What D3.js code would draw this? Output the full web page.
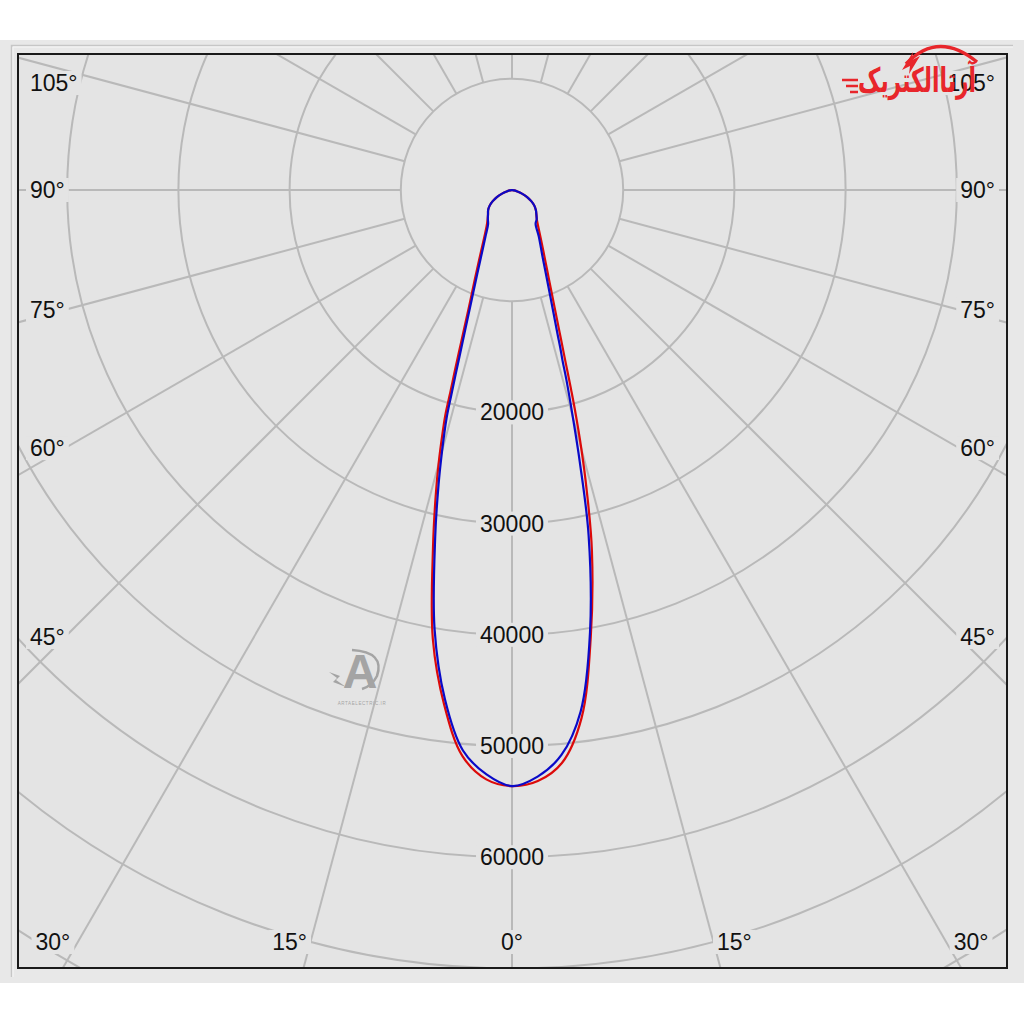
<!DOCTYPE html>
<html><head><meta charset="utf-8">
<script src="https://cdn.jsdelivr.net/npm/d3@7"></script>
<style>html,body{margin:0;padding:0;background:#fff;} svg{display:block}</style>
</head><body>
<svg id="chart" width="1024" height="1024"></svg>
<script>
// ---- data (luminous intensity, cd) ----
const angles    = [0, 2.5, 5, 7.5, 10, 12.5, 14, 15, 16, 16.5, 17, 17.5, 18.5, 20, 22.5, 25, 30, 35, 40, 45, 50, 55, 60, 65, 70, 75, 80, 85, 90];
const redLeft   = [53600, 53050, 51100, 46700, 41000, 32800, 28370, 25520, 22580, 21100, 18840, 17190, 14380, 11490, 8770, 7050, 5050, 3980, 3400, 3050, 2800, 2450, 2000, 1500, 950, 500, 220, 60, 0];
const redRight  = [53600, 53200, 51700, 47900, 40800, 33200, 27720, 24090, 20470, 18700, 17050, 15640, 13480, 11160, 8680, 7130, 5250, 4150, 3480, 3100, 2800, 2450, 2000, 1500, 950, 500, 220, 60, 0];
const blueLeft  = [53600, 52600, 50600, 46200, 40100, 31900, 27300, 24300, 21350, 19200, 17350, 15700, 13260, 10740, 8160, 6550, 4730, 3750, 3380, 3050, 2800, 2450, 2000, 1500, 950, 500, 220, 60, 0];
const blueRight = [53600, 52800, 51000, 47300, 40400, 31840, 25190, 21120, 17740, 16000, 14860, 13670, 11900, 9950, 7790, 6420, 4820, 3700, 3450, 3100, 2800, 2450, 2000, 1500, 950, 500, 220, 60, 0];
const seriesNames  = ["C0-C180", "C90-C270"];
const seriesColors = ["#dc0a0a", "#0a0ac8"];

const ringValues  = [10000, 20000, 30000, 40000, 50000, 60000, 70000, 80000];
const ringLabels  = [20000, 30000, 40000, 50000, 60000];
const spokeAngles = [0, 15, 30, 45, 60, 75, 90, 105, 120, 135, 150, 165, 180, 195, 210, 225, 240, 255, 270, 285, 300, 315, 330, 345];
const sideLabelAngles   = [45, 60, 75, 90, 105];
const bottomLabelAngles = [0, 15, 30];

// ---- layout ----
const svg = d3.select("#chart");
const frame = {x: 18, y: 54, w: 989, h: 914};
const cx = 512, cy = 190;
const r = d3.scaleLinear().domain([0, 10000]).range([0, 111.2]);
const rad = d => d * Math.PI / 180;
const font = "'Liberation Sans', Arial, sans-serif";
const plotBg = "#e4e4e4";

// panel
svg.append("rect").attr("x", 0).attr("y", 40).attr("width", 1024).attr("height", 943).attr("fill", "#e8e8e8");
svg.append("path").attr("d", "M11.5,977 V45.5 H1013").attr("fill", "none").attr("stroke", "#c6c6c6").attr("stroke-width", 1.5);
svg.append("path").attr("d", "M13,977 V47 H1013").attr("fill", "none").attr("stroke", "#f6f6f6").attr("stroke-width", 1);

// plot bg
svg.append("rect").attr("x", frame.x).attr("y", frame.y).attr("width", frame.w).attr("height", frame.h).attr("fill", plotBg);

svg.append("clipPath").attr("id", "clip").append("rect")
  .attr("x", frame.x + 1).attr("y", frame.y + 1).attr("width", frame.w - 2).attr("height", frame.h - 2);

const g = svg.append("g").attr("clip-path", "url(#clip)");
const grid = g.append("g").attr("stroke", "#b9b9b9").attr("stroke-width", 2).attr("fill", "none");

grid.selectAll("circle").data(ringValues).join("circle")
  .attr("cx", cx).attr("cy", cy).attr("r", d => r(d));

grid.selectAll("line").data(spokeAngles).join("line")
  .attr("x1", a => cx + r(10000) * Math.sin(rad(a)))
  .attr("y1", a => cy + r(10000) * Math.cos(rad(a)))
  .attr("x2", a => cx + r(120000) * Math.sin(rad(a)))
  .attr("y2", a => cy + r(120000) * Math.cos(rad(a)));

// labels with background
function label(parent, x, y, txt, anchor) {
  const grp = parent.append("g");
  const t = grp.append("text").attr("x", x).attr("y", y).attr("text-anchor", anchor)
    .attr("dominant-baseline", "central").attr("font-family", font).attr("font-size", 23)
    .attr("fill", "#111").text(txt);
  const bb = t.node().getBBox();
  grp.insert("rect", "text").attr("x", bb.x - 4).attr("y", bb.y + 1).attr("width", bb.width + 8)
    .attr("height", bb.height - 2).attr("fill", plotBg);
}
const labels = g.append("g");
ringLabels.forEach(v => label(labels, cx, cy + r(v), d3.format("d")(v), "middle"));

sideLabelAngles.forEach(a => {
  let y = (a === 90) ? cy : cy + (cx - 65) / Math.tan(rad(a));
  y = Math.max(y, 83);
  label(labels, 30, y, a + "°", "start");
  label(labels, 995, y, a + "°", "end");
});
bottomLabelAngles.forEach(a => {
  const dx = (955 - cy) * Math.tan(rad(a));
  if (a === 0) { label(labels, cx, 942, a + "°", "middle"); return; }
  label(labels, cx - dx, 942, a + "°", "end");
  label(labels, cx + dx, 942, a + "°", "start");
});

// curves
function buildSeries(left, right) {
  const pts = [];
  for (let i = angles.length - 1; i >= 0; i--) pts.push({phi: Math.PI + rad(angles[i]), v: left[i]});
  for (let i = 1; i < angles.length; i++) pts.push({phi: Math.PI - rad(angles[i]), v: right[i]});
  return pts;
}
const series = [buildSeries(redLeft, redRight), buildSeries(blueLeft, blueRight)];
const line = d3.lineRadial().angle(d => d.phi).radius(d => r(d.v)).curve(d3.curveCatmullRom.alpha(0.5));
const cg = g.append("g").attr("transform", `translate(${cx},${cy})`);
cg.selectAll("path").data(series).join("path")
  .attr("d", line).attr("fill", "none")
  .attr("stroke", (d, i) => seriesColors[i]).attr("stroke-width", 2.2)
  .attr("stroke-linejoin", "round")
  .append("title").text((d, i) => seriesNames[i]);

// frame border
svg.append("rect").attr("x", frame.x).attr("y", frame.y).attr("width", frame.w).attr("height", frame.h)
  .attr("fill", "none").attr("stroke", "#1a1a1a").attr("stroke-width", 2);

// watermark "A"
const wm = svg.append("g").attr("fill", "#a4a4a4");
wm.append("text").attr("x", 360).attr("y", 688).attr("text-anchor", "middle")
  .attr("font-family", font).attr("font-weight", "bold").attr("font-size", 48).text("A");
wm.append("path").attr("d", "M352,650 Q385,652 377,676 Q372,686 362,689").attr("fill", "none")
  .attr("stroke", "#a4a4a4").attr("stroke-width", 2.5);
wm.append("path").attr("d", "M329,672 L340,676 L336,680 L346,687 L333,682 L337,678 Z");
wm.append("text").attr("x", 362).attr("y", 705).attr("text-anchor", "middle")
  .attr("font-family", font).attr("font-size", 4.5).attr("letter-spacing", 0.6).text("ARTAELECTRIC.IR");

// logo
const logo = svg.append("g").attr("fill", "#e8262b");
logo.append("text").attr("x", 917).attr("y", 92).attr("text-anchor", "middle")
  .attr("font-family", "'DejaVu Sans', sans-serif").attr("font-weight", "bold").attr("font-size", 34)
  .attr("textLength", 118).attr("lengthAdjust", "spacingAndGlyphs").text("آرتاالکتریک");
logo.append("path").attr("d", "M906,64 Q938,30 977,62").attr("fill", "none").attr("stroke", "#e8262b").attr("stroke-width", 3.5);
logo.append("path").attr("d", "M902,70 L913,52 L912,60 L920,56 L909,74 L910,66 Z");
[[842, 80, 858], [846, 86, 858], [850, 92, 858]].forEach(([x1, y, x2]) =>
  logo.append("line").attr("x1", x1).attr("x2", x2).attr("y1", y).attr("y2", y)
    .attr("stroke", "#e8262b").attr("stroke-width", 2.5));
</script>
</body></html>
